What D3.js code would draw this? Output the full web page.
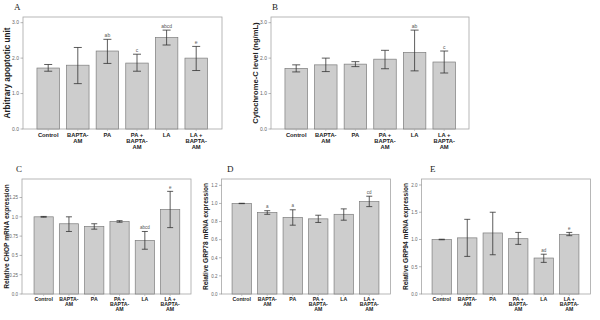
<!DOCTYPE html>
<html>
<head>
<meta charset="utf-8">
<script src="https://cdn.jsdelivr.net/npm/d3@7"></script>
<style>
  body { margin: 0; background: #fff; }
  svg { display: block; font-family: "Liberation Sans", Arial, sans-serif; }
</style>
</head>
<body>
<svg id="chart" width="600" height="320"></svg>
<script>
// categories, split in lines as printed under the bars
const categories = ["Control", "BAPTA-AM", "PA", "PA + BAPTA-AM", "LA", "LA + BAPTA-AM"];
const categoryLines = [["Control"], ["BAPTA-", "AM"], ["PA"], ["PA +", "BAPTA-", "AM"], ["LA"], ["LA +", "BAPTA-", "AM"]];

// A: apoptosis
const apoMean = [1.72, 1.80, 2.20, 1.86, 2.58, 2.00];
const apoLow  = [1.63, 1.28, 1.85, 1.63, 2.37, 1.65];
const apoHigh = [1.82, 2.30, 2.53, 2.11, 2.79, 2.33];
const apoSig  = ["", "", "ab", "c", "abcd", "e"];
const apoTicks = [0, 1, 2, 3];
const apoTickLabels = ["0.0", "1.0", "2.0", "3.0"];

// B: cytochrome C
const cytMean = [1.71, 1.81, 1.83, 1.97, 2.16, 1.89];
const cytLow  = [1.61, 1.62, 1.76, 1.70, 1.64, 1.58];
const cytHigh = [1.81, 2.00, 1.90, 2.22, 2.79, 2.20];
const cytSig  = ["", "", "", "", "ab", "c"];
const cytTicks = [0, 1, 2, 3];
const cytTickLabels = ["0.0", "1.0", "2.0", "3.0"];

// C: CHOP
const chopMean = [1.00, 0.91, 0.875, 0.94, 0.695, 1.095];
const chopLow  = [0.995, 0.81, 0.84, 0.93, 0.58, 0.86];
const chopHigh = [1.005, 1.00, 0.91, 0.95, 0.81, 1.33];
const chopSig  = ["", "", "", "", "abcd", "e"];
const chopTicks = [0, 0.25, 0.5, 0.75, 1.0, 1.25];
const chopTickLabels = ["0.0", "0.25", "0.5", "0.75", "1.0", "1.25"];

// D: GRP78
const grp78Mean = [1.00, 0.90, 0.845, 0.83, 0.88, 1.02];
const grp78Low  = [0.998, 0.88, 0.76, 0.79, 0.815, 0.965];
const grp78High = [1.002, 0.92, 0.93, 0.87, 0.94, 1.08];
const grp78Sig  = ["", "a", "a", "", "", "cd"];
const grp78Ticks = [0, 0.2, 0.4, 0.6, 0.8, 1.0, 1.2];
const grp78TickLabels = ["0.0", "0.2", "0.4", "0.6", "0.8", "1.0", "1.2"];

// E: GRP94
const grp94Mean = [1.00, 1.03, 1.12, 1.015, 0.66, 1.095];
const grp94Low  = [0.995, 0.69, 0.72, 0.91, 0.58, 1.07];
const grp94High = [1.005, 1.37, 1.50, 1.13, 0.73, 1.13];
const grp94Sig  = ["", "", "", "", "ad", "e"];
const grp94Ticks = [0, 0.5, 1.0, 1.5, 2.0];
const grp94TickLabels = ["0.0", "0.5", "1.0", "1.5", "2.0"];

const svg = d3.select("#chart");

function drawPanel(p) {
  const g = svg.append("g");

  const x = d3.scaleBand()
    .domain(categories)
    .range(p.xRange)
    .paddingInner(0.24)
    .paddingOuter(0.12);

  const y = d3.scaleLinear()
    .domain([0, p.yMax])
    .range([p.frame[3], p.frame[1]]);

  // panel letter
  g.append("text")
    .attr("x", p.letterPos[0])
    .attr("y", p.letterPos[1])
    .attr("font-family", "'Liberation Serif', 'DejaVu Serif', serif")
    .attr("font-size", 9)
    .attr("fill", "#222")
    .text(p.letter);

  // frame
  g.append("rect")
    .attr("x", p.frame[0])
    .attr("y", p.frame[1])
    .attr("width", p.frame[2] - p.frame[0])
    .attr("height", p.frame[3] - p.frame[1])
    .attr("fill", "none")
    .attr("stroke", "#a6a6a6")
    .attr("stroke-width", 0.8);

  // y ticks
  p.ticks.forEach((t, i) => {
    g.append("line")
      .attr("x1", p.frame[0] - 2.5)
      .attr("x2", p.frame[0])
      .attr("y1", y(t))
      .attr("y2", y(t))
      .attr("stroke", "#888")
      .attr("stroke-width", 0.6);
    g.append("text")
      .attr("x", p.frame[0] - 4)
      .attr("y", y(t) + 1.8)
      .attr("text-anchor", "end")
      .attr("font-size", p.tickSize)
      .attr("fill", "#666")
      .text(p.tickLabels[i]);
  });

  // bars
  g.selectAll("rect.bar")
    .data(p.mean)
    .join("rect")
    .attr("class", "bar")
    .attr("x", (d, i) => x(categories[i]))
    .attr("y", d => y(d))
    .attr("width", x.bandwidth())
    .attr("height", d => y(0) - y(d))
    .attr("fill", "#cdcdcd")
    .attr("stroke", "#7d7d7d")
    .attr("stroke-width", 0.7);

  // small x ticks under bars
  categories.forEach(c => {
    const cx = x(c) + x.bandwidth() / 2;
    g.append("line")
      .attr("x1", cx).attr("x2", cx)
      .attr("y1", p.frame[3]).attr("y2", p.frame[3] + 2)
      .attr("stroke", "#aaa")
      .attr("stroke-width", 0.6);
  });

  // error bars
  const cap = p.cap;
  p.mean.forEach((m, i) => {
    const cx = x(categories[i]) + x.bandwidth() / 2;
    const eb = g.append("g").attr("stroke", "#333").attr("stroke-width", 0.8);
    eb.append("line").attr("x1", cx).attr("x2", cx).attr("y1", y(p.low[i])).attr("y2", y(p.high[i]));
    eb.append("line").attr("x1", cx - cap).attr("x2", cx + cap).attr("y1", y(p.low[i])).attr("y2", y(p.low[i]));
    eb.append("line").attr("x1", cx - cap).attr("x2", cx + cap).attr("y1", y(p.high[i])).attr("y2", y(p.high[i]));
    if (p.sig[i]) {
      g.append("text")
        .attr("x", cx)
        .attr("y", y(p.high[i]) - 2.5)
        .attr("text-anchor", "middle")
        .attr("font-size", p.tickSize)
        .attr("fill", "#555")
        .text(p.sig[i]);
    }
  });

  // category labels
  categoryLines.forEach((lines, i) => {
    const cx = x(categories[i]) + x.bandwidth() / 2;
    const t = g.append("text")
      .attr("text-anchor", "middle")
      .attr("font-size", p.catSize)
      .attr("font-weight", "bold")
      .attr("fill", "#222");
    lines.forEach((ln, j) => {
      t.append("tspan")
        .attr("x", cx)
        .attr("y", p.frame[3] + p.catOffset + j * p.catLine)
        .text(ln);
    });
  });

  // y axis title
  const midY = (p.frame[1] + p.frame[3]) / 2;
  g.append("text")
    .attr("transform", `translate(${p.titleX},${midY}) rotate(-90)`)
    .attr("text-anchor", "middle")
    .attr("font-size", p.titleSize)
    .attr("font-weight", "bold")
    .attr("fill", "#222")
    .text(p.title);
}

drawPanel({
  letter: "A", letterPos: [14, 10],
  frame: [23, 17, 222, 129], xRange: [33.4, 211], yMax: 3.16,
  mean: apoMean, low: apoLow, high: apoHigh, sig: apoSig,
  ticks: apoTicks, tickLabels: apoTickLabels,
  title: "Arbitrary apoptotic unit", titleX: 10, titleSize: 8.2,
  tickSize: 5, catSize: 5.8, catOffset: 8, catLine: 6, cap: 4
});

drawPanel({
  letter: "B", letterPos: [272, 10],
  frame: [271, 17, 469, 129], xRange: [281.4, 459], yMax: 3.16,
  mean: cytMean, low: cytLow, high: cytHigh, sig: cytSig,
  ticks: cytTicks, tickLabels: cytTickLabels,
  title: "Cytochrome-C level (ng/mL)", titleX: 258, titleSize: 7.6,
  tickSize: 5, catSize: 5.8, catOffset: 8, catLine: 6, cap: 4
});

drawPanel({
  letter: "C", letterPos: [16, 172],
  frame: [22, 179, 191, 294], xRange: [31, 182.8], yMax: 1.49,
  mean: chopMean, low: chopLow, high: chopHigh, sig: chopSig,
  ticks: chopTicks, tickLabels: chopTickLabels,
  title: "Relative CHOP mRNA expression", titleX: 9, titleSize: 6.6,
  tickSize: 4.5, catSize: 5.2, catOffset: 6.5, catLine: 5, cap: 3
});

drawPanel({
  letter: "D", letterPos: [227, 172],
  frame: [221.5, 179, 390.5, 294], xRange: [229, 382], yMax: 1.27,
  mean: grp78Mean, low: grp78Low, high: grp78High, sig: grp78Sig,
  ticks: grp78Ticks, tickLabels: grp78TickLabels,
  title: "Relative GRP78 mRNA expression", titleX: 208, titleSize: 6.6,
  tickSize: 4.5, catSize: 5.2, catOffset: 6.5, catLine: 5, cap: 3
});

drawPanel({
  letter: "E", letterPos: [430, 172],
  frame: [421.5, 179, 590.5, 294], xRange: [429, 582], yMax: 2.11,
  mean: grp94Mean, low: grp94Low, high: grp94High, sig: grp94Sig,
  ticks: grp94Ticks, tickLabels: grp94TickLabels,
  title: "Relative GRP94 mRNA expression", titleX: 408, titleSize: 6.6,
  tickSize: 4.5, catSize: 5.2, catOffset: 6.5, catLine: 5, cap: 3
});
</script>
</body>
</html>
